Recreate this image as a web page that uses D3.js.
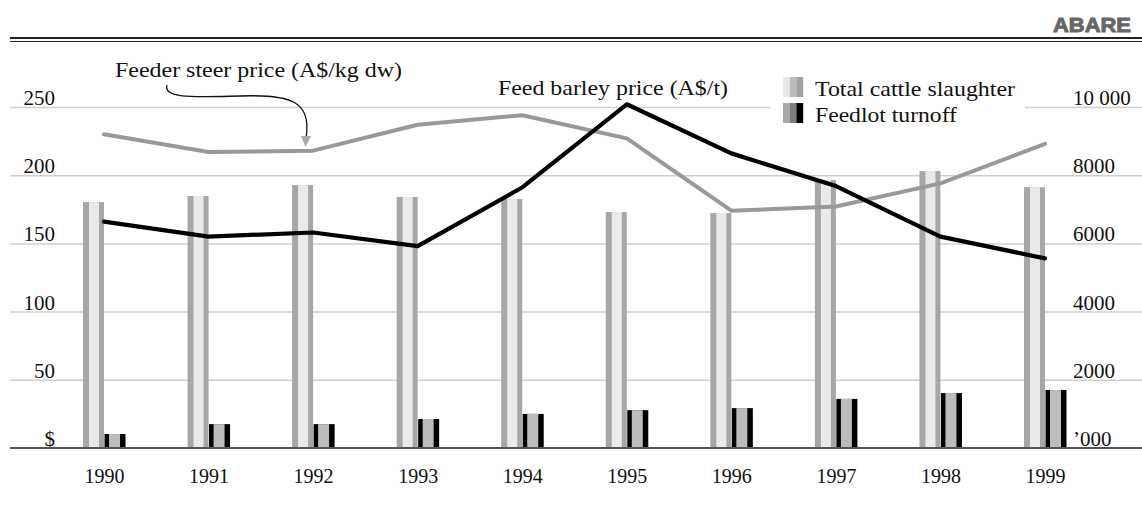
<!DOCTYPE html>
<html>
<head>
<meta charset="utf-8">
<script src="https://cdn.jsdelivr.net/npm/d3@7"></script>
<style>
  body { margin: 0; background: #fff; }
  svg text { font-family: "Liberation Serif", "Times New Roman", serif; }
</style>
</head>
<body>
<div id="chart"></div>
<script>
// data
const years = [1990, 1991, 1992, 1993, 1994, 1995, 1996, 1997, 1998, 1999];
const totalSlaughter = [7210, 7390, 7710, 7360, 7300, 6920, 6890, 7860, 8120, 7650];
const feedlotTurnoff = [410, 700, 700, 850, 1000, 1110, 1170, 1440, 1610, 1700];
const steerPrice = [230, 217, 218, 237, 244, 227, 174, 177, 194, 223];
const barleyPrice = [166, 155, 158, 148, 191, 252, 216, 192, 155, 139];
const leftTicks = [0, 50, 100, 150, 200, 250];
const leftLabels = ["$", "50", "100", "150", "200", "250"];
const rightTicks = [0, 2000, 4000, 6000, 8000, 10000];
const rightLabels = ["\u2019000", "2000", "4000", "6000", "8000", "10 000"];

const W = 1142, H = 508;
const svg = d3.select("#chart").append("svg")
  .attr("width", W)
  .attr("height", H);

const x = d3.scalePoint()
  .domain(years)
  .range([104, 1045]);

const yLeft = d3.scaleLinear().domain([0, 250]).range([448, 107]);
const yRight = d3.scaleLinear().domain([0, 10000]).range([448, 107]);

const barW = 21;

// header rule and logo
svg.append("line")
  .attr("x1", 10).attr("x2", W).attr("y1", 38).attr("y2", 38)
  .attr("stroke", "#222").attr("stroke-width", 2.2);
svg.append("line")
  .attr("x1", 10).attr("x2", W).attr("y1", 41.5).attr("y2", 41.5)
  .attr("stroke", "#222").attr("stroke-width", 1.2);
svg.append("text")
  .attr("x", 1053).attr("y", 32)
  .attr("textLength", 78).attr("lengthAdjust", "spacingAndGlyphs")
  .style("font-family", "'Liberation Sans', Arial, sans-serif")
  .style("font-weight", "bold")
  .style("font-size", "19.5px")
  .attr("fill", "#666")
  .attr("stroke", "#666")
  .attr("stroke-width", 0.9)
  .text("ABARE");

// gridlines
svg.append("g")
  .attr("transform", "translate(10,0)")
  .call(d3.axisRight(yLeft).tickValues(leftTicks.slice(1)).tickSize(W - 10).tickFormat(""))
  .call(g => g.select(".domain").remove())
  .call(g => g.selectAll("line").attr("stroke", "#cfcfcf").attr("stroke-width", 1.5));

// total slaughter bars
const totals = svg.append("g").selectAll("g")
  .data(years.map((yr, i) => ({ yr, v: totalSlaughter[i] })))
  .join("g");
totals.append("rect")
  .attr("x", d => x(d.yr) - barW)
  .attr("y", d => yRight(d.v))
  .attr("width", barW)
  .attr("height", d => yRight(0) - yRight(d.v))
  .attr("fill", "#a7a7a8");
totals.append("rect")
  .attr("x", d => x(d.yr) - barW + 6)
  .attr("y", d => yRight(d.v))
  .attr("width", 10)
  .attr("height", d => yRight(0) - yRight(d.v))
  .attr("fill", "#e9eaec");

// feedlot bars
const feed = svg.append("g").selectAll("g")
  .data(years.map((yr, i) => ({ yr, v: feedlotTurnoff[i] })))
  .join("g");
feed.append("rect")
  .attr("x", d => x(d.yr) + 0.5)
  .attr("y", d => yRight(d.v))
  .attr("width", barW)
  .attr("height", d => yRight(0) - yRight(d.v))
  .attr("fill", "#000");
feed.append("rect")
  .attr("x", d => x(d.yr) + 5)
  .attr("y", d => yRight(d.v))
  .attr("width", 11)
  .attr("height", d => yRight(0) - yRight(d.v))
  .attr("fill", "#bcbcbd");

// baseline
svg.append("line")
  .attr("x1", 10).attr("x2", W).attr("y1", yLeft(0)).attr("y2", yLeft(0))
  .attr("stroke", "#555").attr("stroke-width", 2);

// price lines
const lineL = d3.line()
  .x((d, i) => x(years[i]))
  .y(d => yLeft(d));

svg.append("path")
  .datum(steerPrice)
  .attr("fill", "none")
  .attr("stroke", "#999")
  .attr("stroke-width", 4)
  .attr("stroke-linejoin", "round")
  .attr("stroke-linecap", "round")
  .attr("d", lineL);

svg.append("path")
  .datum(barleyPrice)
  .attr("fill", "none")
  .attr("stroke", "#000")
  .attr("stroke-width", 4.2)
  .attr("stroke-linejoin", "round")
  .attr("stroke-linecap", "round")
  .attr("d", lineL);

// left axis labels
svg.append("g")
  .attr("transform", "translate(55,0)")
  .call(d3.axisLeft(yLeft).tickValues(leftTicks).tickSize(0).tickPadding(0)
    .tickFormat((d, i) => leftLabels[i]))
  .call(g => g.select(".domain").remove())
  .call(g => g.selectAll("text")
    .attr("dy", "-0.12em")
    .attr("fill", "#111")
    .style("font-family", "'Liberation Serif', serif")
    .style("font-size", "21px"));

// right axis labels
svg.append("g")
  .attr("transform", "translate(1073,0)")
  .call(d3.axisRight(yRight).tickValues(rightTicks).tickSize(0).tickPadding(0)
    .tickFormat((d, i) => rightLabels[i]))
  .call(g => g.select(".domain").remove())
  .call(g => g.selectAll("text")
    .attr("dy", "-0.12em")
    .attr("fill", "#111")
    .style("font-family", "'Liberation Serif', serif")
    .style("font-size", "21px"));

// year labels
svg.append("g")
  .attr("transform", `translate(0,${yLeft(0)})`)
  .call(d3.axisBottom(x).tickSize(0).tickPadding(21))
  .call(g => g.select(".domain").remove())
  .call(g => g.selectAll("text")
    .attr("fill", "#111")
    .style("font-family", "'Liberation Serif', serif")
    .style("font-size", "20px"));

// legend
const legend = svg.append("g");
legend.append("rect")
  .attr("x", 770).attr("y", 74).attr("width", 255).attr("height", 56)
  .attr("fill", "#fff");
const swatches = [
  { label: "Total cattle slaughter", y: 77, len: 200, colors: ["#e6e7e9", "#bdbdbe", "#a3a3a4"] },
  { label: "Feedlot turnoff", y: 103, len: 142, colors: ["#a9a9aa", "#7d7d7e", "#000"] }
];
swatches.forEach(s => {
  s.colors.forEach((c, j) => {
    legend.append("rect")
      .attr("x", 783 + j * 6.7).attr("y", s.y)
      .attr("width", 6.8).attr("height", 20)
      .attr("fill", c);
  });
  legend.append("text")
    .attr("x", 815).attr("y", s.y + 19)
    .attr("fill", "#111")
    .attr("textLength", s.len).attr("lengthAdjust", "spacingAndGlyphs")
    .style("font-size", "22px")
    .text(s.label);
});

// annotations
svg.append("text")
  .attr("x", 115).attr("y", 77)
  .attr("fill", "#111")
  .attr("textLength", 287).attr("lengthAdjust", "spacingAndGlyphs")
  .style("font-size", "22px")
  .text("Feeder steer price (A$/kg dw)");

svg.append("text")
  .attr("x", 498).attr("y", 95)
  .attr("fill", "#111")
  .attr("textLength", 230).attr("lengthAdjust", "spacingAndGlyphs")
  .style("font-size", "22px")
  .text("Feed barley price (A$/t)");

svg.append("path")
  .attr("d", "M167,85 C163,99 195,97 240,96 C292,94 312,102 306,138")
  .attr("fill", "none")
  .attr("stroke", "#111")
  .attr("stroke-width", 1.3);
svg.append("path")
  .attr("d", "M301,136 L311,136 L305.5,147 Z")
  .attr("fill", "#aaa");
</script>
</body>
</html>
